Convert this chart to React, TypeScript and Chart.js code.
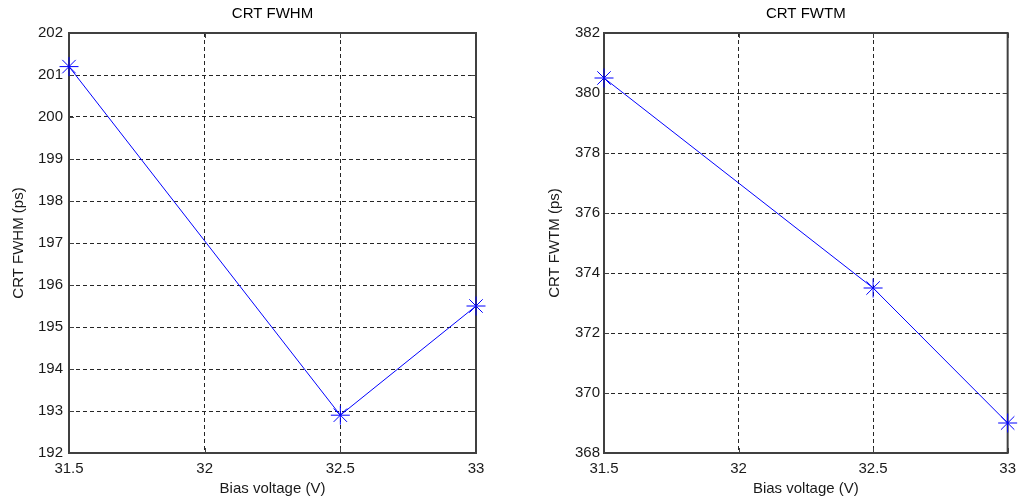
import React, { useEffect, useRef } from 'react';
import { Chart, registerables } from 'chart.js';

Chart.register(...registerables);

// ---- data ----
const biasVoltage = [31.5, 32.5, 33];
const fwhmValues = [201.2, 192.9, 195.5];
const fwtmValues = [380.5, 373.5, 369];
const xTickValues = [31.5, 32, 32.5, 33];
const fwhmTickValues = [192, 193, 194, 195, 196, 197, 198, 199, 200, 201, 202];
const fwtmTickValues = [368, 370, 372, 374, 376, 378, 380, 382];
const panelTitles = ['CRT FWHM', 'CRT FWTM'];
const yAxisTitles = ['CRT FWHM (ps)', 'CRT FWTM (ps)'];
const xAxisTitle = 'Bias voltage (V)';

const FONT = '"Liberation Sans", Arial, Helvetica, sans-serif';
const TEXT = '#1a1a1a';
const AXIS = '#404040';
const GRID = '#262626';
const LINE = '#0000ff';

type PanelProps = {
  values: number[];
  yTicks: number[];
  title: string;
  yTitle: string;
  left: number;
  width: number;
  yAxisWidth: number;
  yLabelPad: number;
  rightPad: number;
};

function Panel(props: PanelProps) {
  const ref = useRef<HTMLCanvasElement | null>(null);
  useEffect(() => {
    const canvas = ref.current;
    if (!canvas) return;
    const { values, yTicks, title, yTitle, yAxisWidth, yLabelPad, rightPad } = props;

    const framePlugin = {
      id: 'frame',
      beforeDatasetsDraw(chart: any) {
        const { ctx, chartArea } = chart;
        const { left, right, top, bottom } = chartArea;
        const xs = chart.scales.x;
        const ys = chart.scales.y;
        ctx.save();
        ctx.strokeStyle = AXIS;
        ctx.lineWidth = 1;
        ctx.setLineDash([]);
        const tl = 5;
        ctx.beginPath();
        xTickValues.forEach((v) => {
          const px = Math.round(xs.getPixelForValue(v)) + 0.5;
          ctx.moveTo(px, bottom);
          ctx.lineTo(px, bottom - tl);
          ctx.moveTo(px, top);
          ctx.lineTo(px, top + tl);
        });
        yTicks.forEach((v) => {
          const py = Math.round(ys.getPixelForValue(v)) + 0.5;
          ctx.moveTo(left, py);
          ctx.lineTo(left + tl, py);
          ctx.moveTo(right, py);
          ctx.lineTo(right - tl, py);
        });
        ctx.stroke();
        ctx.lineWidth = 2;
        ctx.strokeRect(left, top, right - left, bottom - top);
        ctx.restore();
      },
      afterDraw(chart: any) {
        const { ctx, chartArea } = chart;
        ctx.save();
        ctx.fillStyle = '#000';
        ctx.font = `15px ${FONT}`;
        ctx.textAlign = 'center';
        ctx.textBaseline = 'middle';
        ctx.fillText(title, (chartArea.left + chartArea.right) / 2, 14);
        ctx.restore();
      },
    };

    const chart = new Chart(canvas, {
      type: 'line',
      data: {
        datasets: [
          {
            data: biasVoltage.map((x, i) => ({ x, y: values[i] })),
            borderColor: LINE,
            borderWidth: 1,
            pointStyle: 'star',
            pointRadius: 9.5,
            pointBorderColor: LINE,
            pointBackgroundColor: LINE,
            pointBorderWidth: 1,
            tension: 0,
            fill: false,
            clip: false as any,
          },
        ],
      },
      options: {
        responsive: false,
        animation: false,
        layout: { padding: { top: 33, right: rightPad, left: 0, bottom: 0 } },
        plugins: {
          legend: { display: false },
          tooltip: { enabled: false },
          title: { display: false },
        },
        scales: {
          x: {
            type: 'linear',
            min: xTickValues[0],
            max: xTickValues[xTickValues.length - 1],
            afterBuildTicks: (s: any) => {
              s.ticks = xTickValues.map((v) => ({ value: v }));
            },
            afterFit: (s: any) => {
              s.height = 49;
            },
            grid: { color: GRID, lineWidth: 1, drawTicks: false },
            border: { display: false, dash: [4, 3] },
            ticks: {
              padding: 7,
              color: TEXT,
              font: { family: FONT, size: 15 },
              maxRotation: 0,
              autoSkip: false,
              callback: (v: any) => String(v),
            },
            title: {
              display: true,
              text: xAxisTitle,
              color: TEXT,
              font: { family: FONT, size: 15 },
              padding: { top: 0, bottom: 4 },
            },
          },
          y: {
            type: 'linear',
            min: yTicks[0],
            max: yTicks[yTicks.length - 1],
            afterBuildTicks: (s: any) => {
              s.ticks = yTicks.map((v) => ({ value: v }));
            },
            afterFit: (s: any) => {
              s.width = yAxisWidth;
            },
            grid: { color: GRID, lineWidth: 1, drawTicks: false },
            border: { display: false, dash: [4, 3] },
            ticks: {
              padding: yLabelPad,
              color: TEXT,
              font: { family: FONT, size: 15 },
              autoSkip: false,
              callback: (v: any) => String(v),
            },
            title: {
              display: true,
              text: yTitle,
              color: TEXT,
              font: { family: FONT, size: 15 },
              padding: { top: 10, bottom: 0 },
            },
          },
        },
      } as any,
      plugins: [framePlugin],
    });
    return () => chart.destroy();
  }, []);

  return (
    <canvas
      ref={ref}
      width={props.width}
      height={502}
      style={{ position: 'absolute', left: props.left, top: 0, width: props.width, height: 502 }}
    />
  );
}

export default function App() {
  return (
    <div
      style={{
        position: 'absolute',
        left: 0,
        top: 0,
        width: 1023,
        height: 502,
        background: '#fff',
        overflow: 'hidden',
      }}
    >
      <Panel
        values={fwhmValues}
        yTicks={fwhmTickValues}
        title={panelTitles[0]}
        yTitle={yAxisTitles[0]}
        left={0}
        width={511}
        yAxisWidth={69}
        yLabelPad={6}
        rightPad={35}
      />
      <Panel
        values={fwtmValues}
        yTicks={fwtmTickValues}
        title={panelTitles[1]}
        yTitle={yAxisTitles[1]}
        left={536}
        width={487}
        yAxisWidth={68}
        yLabelPad={4}
        rightPad={12}
      />
    </div>
  );
}
